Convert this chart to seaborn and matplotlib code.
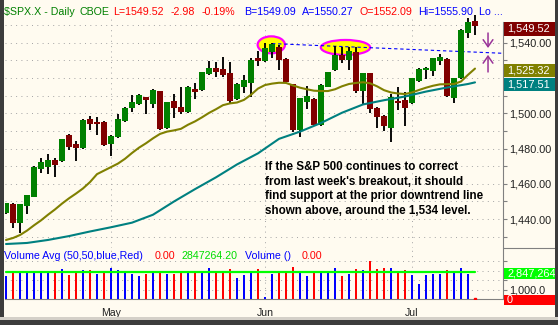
import matplotlib
matplotlib.use("Agg")
import numpy as np
import matplotlib.pyplot as plt
from matplotlib.patches import Ellipse, Rectangle
import seaborn as sns

# ---- $SPX daily sessions, 10 Apr 2007 .. 16 Jul 2007 ----
opens = [1443.7, 1448.6, 1438.0, 1447.6, 1452.7, 1468.4, 1469.7, 1473.5, 1473.0, 1487.7,
         1482.6, 1480.2, 1496.8, 1495.3, 1495.3, 1482.6, 1486.8, 1495.6, 1503.2, 1505.3,
         1509.2, 1505.3, 1512.6, 1491.5, 1507.0, 1503.8, 1500.5, 1513.8, 1513.2, 1522.1,
         1525.9, 1525.1, 1522.7, 1508.1, 1515.1, 1517.0, 1531.5, 1529.7, 1534.5, 1537.8,
         1530.8, 1516.4, 1490.6, 1506.6, 1508.1, 1493.4, 1515.1, 1524.5, 1532.9, 1530.2,
         1534.5, 1512.6, 1522.7, 1503.2, 1498.5, 1491.5, 1507.0, 1507.5, 1505.7, 1518.3,
         1524.5, 1524.0, 1529.8, 1530.8, 1508.9, 1519.8, 1545.3, 1552.09]
highs = [1449.3, 1449.0, 1448.8, 1453.9, 1470.0, 1474.8, 1476.9, 1474.8, 1485.6, 1488.0,
         1484.3, 1496.8, 1498.5, 1497.9, 1495.6, 1487.7, 1499.6, 1503.6, 1510.4, 1510.9,
         1509.5, 1513.8, 1512.9, 1506.6, 1510.9, 1514.9, 1515.2, 1517.2, 1523.6, 1529.7,
         1529.3, 1532.1, 1529.3, 1517.0, 1521.7, 1531.2, 1535.3, 1539.7, 1539.7, 1538.7,
         1531.2, 1516.8, 1508.9, 1515.5, 1508.5, 1516.4, 1523.6, 1538.3, 1537.8, 1537.8,
         1537.8, 1523.0, 1523.0, 1503.6, 1498.9, 1510.7, 1515.1, 1512.3, 1520.2, 1525.8,
         1526.4, 1531.5, 1533.4, 1531.2, 1520.2, 1547.6, 1554.2, 1555.90]
lows = [1443.0, 1434.8, 1432.3, 1442.9, 1452.3, 1466.3, 1465.6, 1463.9, 1472.6, 1479.2,
        1473.1, 1479.9, 1490.6, 1487.7, 1481.7, 1475.8, 1486.2, 1495.2, 1500.9, 1504.8,
        1499.6, 1503.2, 1490.6, 1491.0, 1497.5, 1499.6, 1500.0, 1508.1, 1512.7, 1521.7,
        1520.8, 1520.8, 1505.3, 1507.6, 1511.3, 1509.4, 1527.0, 1529.3, 1531.2, 1524.6,
        1517.5, 1489.6, 1486.8, 1502.4, 1492.8, 1493.0, 1514.7, 1524.1, 1528.3, 1524.6,
        1511.7, 1504.7, 1500.0, 1491.9, 1490.2, 1483.9, 1501.9, 1493.0, 1505.3, 1518.0,
        1519.4, 1521.3, 1527.4, 1509.4, 1505.7, 1519.4, 1542.9, 1544.4]
closes = [1449.0, 1438.0, 1448.6, 1453.7, 1469.6, 1472.6, 1473.5, 1470.7, 1485.4, 1481.1,
          1480.5, 1496.2, 1494.0, 1494.1, 1482.0, 1487.1, 1496.8, 1502.8, 1506.2, 1510.4,
          1507.5, 1513.2, 1491.1, 1506.2, 1502.8, 1500.5, 1514.9, 1512.1, 1523.2, 1525.9,
          1523.6, 1521.7, 1507.2, 1516.6, 1518.9, 1530.2, 1529.7, 1536.8, 1539.1, 1530.2,
          1517.9, 1490.6, 1508.5, 1509.8, 1493.4, 1516.0, 1523.2, 1532.9, 1530.2, 1535.3,
          1512.6, 1522.7, 1502.4, 1498.1, 1493.0, 1509.4, 1505.7, 1503.2, 1519.8, 1525.1,
          1525.9, 1531.2, 1532.1, 1509.8, 1519.8, 1547.2, 1551.6, 1549.52]
# volume in thousands of shares
volumes = [2491000, 2847000, 2740000, 2740000, 2740000, 2847000, 2847000, 2740000, 3203000, 2598000,
           2954000, 3096000, 3096000, 2705000, 2954000, 3310000, 3096000, 2847000, 2705000, 2491000,
           2705000, 2847000, 2847000, 2705000, 2705000, 2954000, 2847000, 2776000, 2847000, 3310000,
           2847000, 2954000, 3203000, 2242000, 2598000, 2847000, 3203000, 250000, 2705000, 2847000,
           2847000, 3452000, 2847000, 2491000, 2954000, 2954000, 2847000, 3310000, 2491000, 2705000,
           3203000, 3096000, 4057000, 3203000, 3310000, 3310000, 2847000, 3096000, 2598000, 1637000,
           2598000, 2705000, 2705000, 3096000, 2954000, 3310000, 2705000, 0]
vol_avg = 2847264.20

# moving averages, sampled along the session index
ma20_idx = list(range(68))
ma20_val = [1428.2, 1429.3, 1431.0, 1433.5, 1436.5, 1439.3, 1442.5, 1445.5, 1448.8, 1451.8,
            1454.5, 1457.4, 1461.0, 1465.5, 1467.5, 1469.5, 1471.5, 1474.2, 1477.5, 1480.5,
            1483.0, 1485.8, 1488.3, 1489.6, 1490.3, 1491.2, 1493.5, 1495.4, 1497.7, 1500.2,
            1502.3, 1504.6, 1505.6, 1506.1, 1507.6, 1510.5, 1514.0, 1516.0, 1516.8, 1517.3,
            1517.2, 1515.8, 1514.5, 1513.6, 1512.8, 1512.6, 1512.6, 1513.6, 1515.3, 1516.6,
            1517.2, 1517.6, 1517.0, 1515.3, 1513.1, 1511.8, 1511.2, 1510.9, 1511.8, 1513.2,
            1514.5, 1515.6, 1516.4, 1516.5, 1516.6, 1518.0, 1521.8, 1525.32]
ma50_idx = [0, 3, 6, 9, 12, 15, 18, 21, 24, 27, 30, 33, 36, 39, 42, 45, 48, 51, 54, 57, 60, 63, 66, 67]
ma50_val = [1425.9, 1426.5, 1428.2, 1430.4, 1433.0, 1435.4, 1438.0, 1442.5, 1450.0, 1457.0,
            1463.7, 1471.0, 1477.3, 1485.5, 1489.6, 1494.5, 1500.3, 1505.0, 1507.4, 1509.5,
            1512.3, 1514.6, 1516.6, 1517.51]

month_idx = [15, 37, 58]
month_labels = ["May", "Jun", "Jul"]
week_idx = [4, 9, 14, 19, 24, 29, 34, 38, 43, 48, 53, 62, 67]

trend_idx = [38, 71]
trend_val = [1539.5, 1534.0]

price_labeled = [1440, 1460, 1480, 1500, 1540]
price_minor = list(range(1430, 1551, 10))

# header pieces: (x pixel, alignment, text, colour)
title_parts = [(4, "left", "$SPX.X - Daily", "#008000"), (79, "left", "CBOE", "#008000"),
               (113, "left", "L=1549.52", "#FF0000"), (171, "left", "-2.98", "#FF0000"),
               (202, "left", "-0.19%", "#FF0000"),
               (296, "right", "B=1549.09", "#0000FF"), (302, "left", "A=1550.27", "#0000FF"),
               (360, "left", "O=1552.09", "#FF0000"), (418, "left", "Hi=1555.90", "#0000FF"),
               (479, "left", "Lo ...", "#0000FF")]
vol_legend = [(4, "Volume Avg (50,50,blue,Red)", "#0000FF"), (155, "0.00", "#FF0000"),
              (182, "2847264.20", "#00DD00"), (245, "Volume ()", "#0000FF"), (302, "0.00", "#FF0000")]
note_lines = ["If the S&P 500 continues to correct",
              "from last week's breakout, it should",
              "find support at the prior downtrend line",
              "shown above, around the 1,534 level."]

# ---- styling ----
CREAM = "#FFFBF0"
UPC, DNC = "#008000", "#800000"
OLIVE, TEAL = "#808000", "#008080"
GRID = "#A8A8A8"
AXC = "#808080"
TXT = "#202020"
PURPLE = "#993399"

sns.set_style("white")
plt.rcParams["font.family"] = ["Liberation Sans", "DejaVu Sans"]
plt.rcParams["axes.unicode_minus"] = False

W, H, DPI = 558, 325, 100
fig = plt.figure(figsize=(W / DPI, H / DPI), dpi=DPI)
fig.patch.set_facecolor(CREAM)


def box(x0, y0, x1, y1):
    return [x0 / W, 1 - y1 / H, (x1 - x0) / W, (y1 - y0) / H]


ax = fig.add_axes(box(5, 3, 503, 248))
axv = fig.add_axes(box(5, 248, 503, 299))
XMIN, XMAX = -0.143, 71.0
YMIN, YMAX = 1423.64, 1562.5
VMAX = 5438000
for a in (ax, axv):
    a.set_facecolor(CREAM)
    for s in ("top", "left", "bottom"):
        a.spines[s].set_visible(False)
    a.spines["right"].set_color(AXC)
    a.spines["right"].set_linewidth(0.8)
    a.set_xlim(XMIN, XMAX)
ax.set_ylim(YMIN, YMAX)
axv.set_ylim(0, VMAX)
ax.spines["right"].set_bounds(YMIN, 1551.8)
axv.spines["bottom"].set_visible(True)
axv.spines["bottom"].set_color(AXC)
axv.spines["bottom"].set_linewidth(0.8)

dots = (0, (1, 4.3))
# grid
ax.hlines(price_minor, XMIN, XMAX, colors=GRID, lw=0.72, linestyles=dots, zorder=1)
ax.vlines(month_idx, YMIN, 1553.5, colors=GRID, lw=0.72, linestyles=dots, zorder=1)
axv.hlines([1e6, 2e6, 3e6, 4e6], XMIN, XMAX, colors=GRID, lw=0.72, linestyles=dots, zorder=1)
axv.vlines(month_idx, 0, VMAX, colors=GRID, lw=0.72, linestyles=dots, zorder=1)

# highlighted double top and the downtrend line through it
ax.add_patch(Ellipse((37.9, 1538.8), 3.9, 9.6, facecolor="#FFFF00", edgecolor="#FF00FF", lw=1.6, zorder=2))
ax.add_patch(Ellipse((48.5, 1537.3), 7.05, 8.5, facecolor="#FFFF00", edgecolor="#FF00FF", lw=1.6, zorder=2))
ax.plot(trend_idx, trend_val, color="#0000FF", lw=0.8, ls=(0, (3, 2.5)), zorder=2.5)

# candles
idx = np.arange(len(closes))
o = np.array(opens)
c = np.array(closes)
up = c >= o
ax.vlines(idx, lows, highs, colors="black", lw=1.35, zorder=3)
ax.bar(idx, np.maximum(np.abs(c - o), 0.7), bottom=np.minimum(o, c), width=0.8,
       color=np.where(up, UPC, DNC), linewidth=0, zorder=4)

# moving averages
sns.lineplot(x=ma20_idx, y=ma20_val, ax=ax, color=OLIVE, lw=1.5, zorder=5, legend=False)
sns.lineplot(x=ma50_idx, y=ma50_val, ax=ax, color=TEAL, lw=1.5, zorder=5, legend=False)

# arrows pointing at the line
ax.annotate("", xy=(68.86, 1537.0), xytext=(68.86, 1545.5),
            arrowprops=dict(arrowstyle="->,head_length=0.5,head_width=0.35", color=PURPLE, lw=1.1,
                            shrinkA=0, shrinkB=0), zorder=6)
ax.annotate("", xy=(68.86, 1533.1), xytext=(68.86, 1523.4),
            arrowprops=dict(arrowstyle="->,head_length=0.5,head_width=0.35", color=PURPLE, lw=1.1,
                            shrinkA=0, shrinkB=0), zorder=6)

# price axis
ax.yaxis.tick_right()
ax.set_yticks(price_labeled)
ax.set_yticklabels([f"{v:,.2f}" for v in price_labeled])
ax.set_yticks(price_minor, minor=True)
ax.tick_params(axis="y", which="both", length=3, width=0.8, color=AXC, labelsize=7.8,
               pad=1.5, labelcolor=TXT)
ax.set_xticks([])

# volume panel
vcol = ["#0000FF" if (c[i] >= (c[i - 1] if i else o[0])) else "#FF0000" for i in idx]
axv.bar(idx, volumes, width=0.32, color=vcol, linewidth=0, zorder=3)
axv.plot(idx[-1], 0, "s", ms=2, color="#FF0000", zorder=3)
sns.lineplot(x=[idx[0], idx[-1]], y=[vol_avg, vol_avg], ax=axv, color="#00FF00", lw=1.6,
             zorder=4, legend=False)
axv.yaxis.tick_right()
axv.set_yticks([1e6])
axv.set_yticklabels(["1,000.0"])
axv.set_yticks([2e6, 3e6, 4e6], minor=True)
axv.tick_params(axis="y", which="both", length=3, width=0.8, color=AXC, labelsize=7.8,
                pad=1.5, labelcolor=TXT)
axv.set_xticks(month_idx)
axv.set_xticklabels(month_labels)
axv.set_xticks(week_idx, minor=True)
axv.tick_params(axis="x", which="major", length=4.3, width=0.8, color=AXC, labelsize=7.6,
                pad=2, labelcolor=TXT)
axv.tick_params(axis="x", which="minor", length=2.2, width=0.8, color=AXC)


def fy(px):
    return 1 - px / H


def value_tag(axis, value, text, face, offset_px, height_px, txtcolor="white"):
    y_disp = axis.transData.transform((0, value))[1]
    yc = (H - y_disp) + offset_px
    fig.patches.append(Rectangle((503.5 / W, fy(yc + height_px / 2)), 52 / W, height_px / H,
                                 transform=fig.transFigure, facecolor=face, edgecolor="none",
                                 zorder=10))
    fig.text(507 / W, fy(yc), text, color=txtcolor, fontsize=7.9, ha="left", va="center",
             zorder=11)


value_tag(ax, closes[-1], f"{closes[-1]:,.2f}", DNC, 3.0, 14)
value_tag(ax, ma20_val[-1], f"{ma20_val[-1]:,.2f}", OLIVE, 2.3, 13)
value_tag(ax, ma50_val[-1], f"{ma50_val[-1]:,.2f}", TEAL, 1.8, 13)
value_tag(axv, vol_avg, f"{vol_avg:,.0f}", "#00FF00", 1.0, 11)
value_tag(axv, volumes[-1], f"{volumes[-1]:,.0f}", "#FF0000", 0.8, 10)

# price panel lower edge in the label column
fig.add_artist(plt.Line2D([503 / W, 555 / W], [fy(248), fy(248)], color=AXC, lw=0.8))

# header line and volume legend
for x, al, t, col in title_parts:
    fig.text(x / W, fy(15), t, color=col, fontsize=7.7, ha=al, va="baseline", zorder=12)
for x, t, col in vol_legend:
    fig.text(x / W, fy(259), t, color=col, fontsize=7.7, ha="left", va="baseline", zorder=12)

# commentary
for k, line in enumerate(note_lines):
    fig.text(265 / W, fy(170 + 14.7 * k), line, color="black", fontsize=8.4,
             fontweight="bold", ha="left", va="baseline", zorder=12)

# window frame
frame = "#3C3C3C"
for (x0, y0, x1, y1, colr) in [(0, 0, 4, 325, frame), (555, 0, 558, 325, frame),
                                (0, 317, 558, 320, "#D4D0C8"), (0, 320, 558, 325, frame)]:
    fig.patches.append(Rectangle((x0 / W, fy(y1)), (x1 - x0) / W, (y1 - y0) / H,
                                 transform=fig.transFigure, facecolor=colr, edgecolor="none",
                                 zorder=20))

fig.savefig("out.png", dpi=DPI, facecolor=CREAM)
